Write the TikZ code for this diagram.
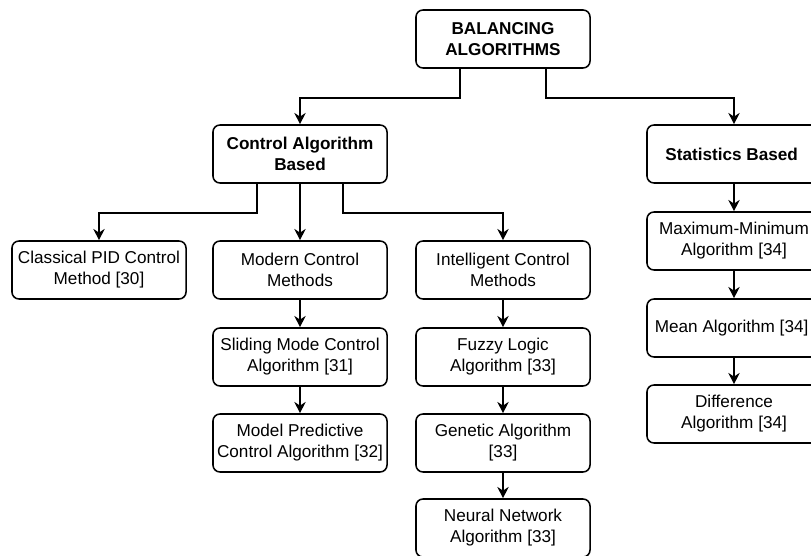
\documentclass[tikz,border=0pt]{standalone}
\usepackage{fontspec}
\setmainfont{Liberation Sans}
\usetikzlibrary{arrows.meta}

\begin{document}
\begin{tikzpicture}[x=0.025cm,y=-0.025cm,>={Stealth[length=8pt,width=8pt]},line width=1.1pt,
                every node/.style={draw,rounded corners=5pt,minimum width=4.35cm,minimum height=1.45cm,
                                   align=center,inner sep=2pt,font=\fontsize{12.2}{15}\selectfont},
                head/.style={font=\fontsize{12.2}{15}\selectfont\bfseries}]
  \useasboundingbox (0,0) rectangle (811,556);
  \clip (0,0) rectangle (811,556);
  \node[head]      (top)    at (503,39)  { BALANCING\\ALGORITHMS };
  \node[head]      (ctrl)   at (300,154) { Control Algorithm\\Based };
  \node[head]      (stat)   at (734,154) { Statistics Based };
  \node            (pid)    at (99,270)  { Classical PID Control\\Method [30] };
  \node            (modern) at (300,270) { Modern Control\\Methods };
  \node            (intel)  at (503,270) { Intelligent Control\\Methods };
  \node            (slide)  at (300,357) { Sliding Mode Control\\Algorithm [31] };
  \node            (mpc)    at (300,443) { Model Predictive\\Control Algorithm [32] };
  \node            (fuzzy)  at (503,357) { Fuzzy Logic\\Algorithm [33] };
  \node            (gen)    at (503,443) { Genetic Algorithm\\{[33]} };
  \node            (neural) at (503,528) { Neural Network\\Algorithm [33] };
  \node            (maxmin) at (734,241) { Maximum-Minimum\\Algorithm [34] };
  \node            (mean)   at (734,328) { Mean Algorithm [34] };
  \node            (diff)   at (734,414) { Difference\\Algorithm [34] };
  \draw[->] ([xshift=-1.075cm]top.south) -- ++(0,29) -| (ctrl);
  \draw[->] ([xshift=1.075cm]top.south) -- ++(0,29) -| (stat);
  \draw[->] ([xshift=-1.075cm]ctrl.south) -- ++(0,29) -| (pid);
  \draw[->] (ctrl) edge (modern);
  \draw[->] ([xshift=1.075cm]ctrl.south) -- ++(0,29) -| (intel);
  \draw[->] (modern) edge (slide);
  \draw[->] (slide) edge (mpc);
  \draw[->] (intel) edge (fuzzy);
  \draw[->] (fuzzy) edge (gen);
  \draw[->] (gen) edge (neural);
  \draw[->] (stat) edge (maxmin);
  \draw[->] (maxmin) edge (mean);
  \draw[->] (mean) edge (diff);
\end{tikzpicture}
\end{document}
